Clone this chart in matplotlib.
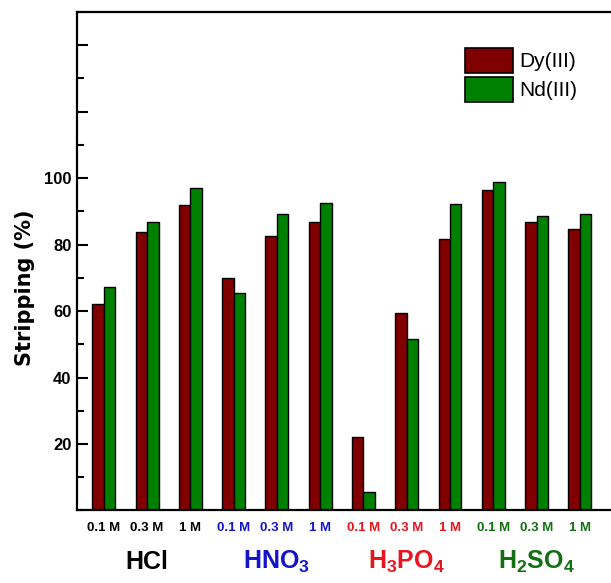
import numpy as np
import matplotlib
matplotlib.use('Agg')
import matplotlib.pyplot as plt
from matplotlib.patches import Patch
from matplotlib.ticker import MultipleLocator
from matplotlib.transforms import blended_transform_factory

plt.rcParams['font.family'] = ['Liberation Sans', 'DejaVu Sans']
plt.rcParams['mathtext.fontset'] = 'custom'
plt.rcParams['mathtext.rm'] = 'Liberation Sans:bold'
plt.rcParams['mathtext.it'] = 'Liberation Sans:bold'
plt.rcParams['mathtext.bf'] = 'Liberation Sans:bold'

# data
concentrations = ['0.1 M', '0.3 M', '1 M'] * 4
acids = ['HCl', 'HNO$_3$', 'H$_3$PO$_4$', 'H$_2$SO$_4$']
acid_colors = ['black', '#1414c8', '#e8141e', '#127012']
dy = [62.0, 83.7, 91.8, 69.9, 82.6, 86.8, 22.1, 59.3, 81.8, 96.5, 86.7, 84.8]
nd = [67.3, 86.9, 97.1, 65.3, 89.3, 92.5, 5.6, 51.6, 92.3, 98.9, 88.6, 89.3]

fig = plt.figure(figsize=(6.11, 5.83), dpi=100)
ax = fig.add_axes([0.126, 0.1244, 0.874, 0.855])

x = np.arange(len(dy))
w = 0.265
ax.bar(x - w / 2, dy, w, color='#800000', edgecolor='black', linewidth=1.0, label='Dy(III)')
ax.bar(x + w / 2, nd, w, color='#008000', edgecolor='black', linewidth=1.0, label='Nd(III)')

ax.set_xlim(-0.62, 11.72)
ax.set_ylim(0, 150)
ax.yaxis.set_minor_locator(MultipleLocator(10))
ax.set_yticks([20, 40, 60, 80, 100, 120, 140])
ax.set_yticklabels(['20', '40', '60', '80', '100', '', ''])
ax.tick_params(axis='y', which='major', direction='in', length=8, width=1.5,
               labelsize=12, pad=4)
ax.tick_params(axis='y', which='minor', direction='in', length=5, width=1.5)
for lab in ax.get_yticklabels():
    lab.set_fontweight('bold')
ax.set_xticks([])
ax.spines['right'].set_visible(False)
for s in ['left', 'top', 'bottom']:
    ax.spines[s].set_linewidth(1.6)

ax.set_ylabel('Stripping (%)', fontsize=15, fontweight='bold',
              family=['DejaVu Sans'])
ax.yaxis.set_label_coords(-0.079, 0.446)

trans = blended_transform_factory(ax.transData, ax.transAxes)
for i, c in enumerate(concentrations):
    ax.text(x[i], -0.035, c, transform=trans, ha='center', va='center',
            fontsize=9.5, fontweight='bold', color=acid_colors[i // 3])
for j, a in enumerate(acids):
    ax.text(x[3 * j + 1], -0.103, a, transform=trans, ha='center', va='center',
            fontsize=18, fontweight='bold', color=acid_colors[j])

handles = [Patch(facecolor='#800000', edgecolor='black', linewidth=1.2),
           Patch(facecolor='#008000', edgecolor='black', linewidth=1.2)]
ax.legend(handles, ['Dy(III)', 'Nd(III)'], loc='upper left',
          bbox_to_anchor=(465 / 611, 1 - 48 / 583), bbox_transform=fig.transFigure,
          frameon=False, fontsize=15, handlelength=2.3, handleheight=1.45,
          labelspacing=0.2, handletextpad=0.3, borderpad=0, borderaxespad=0)

fig.savefig('out.png', dpi=100)
